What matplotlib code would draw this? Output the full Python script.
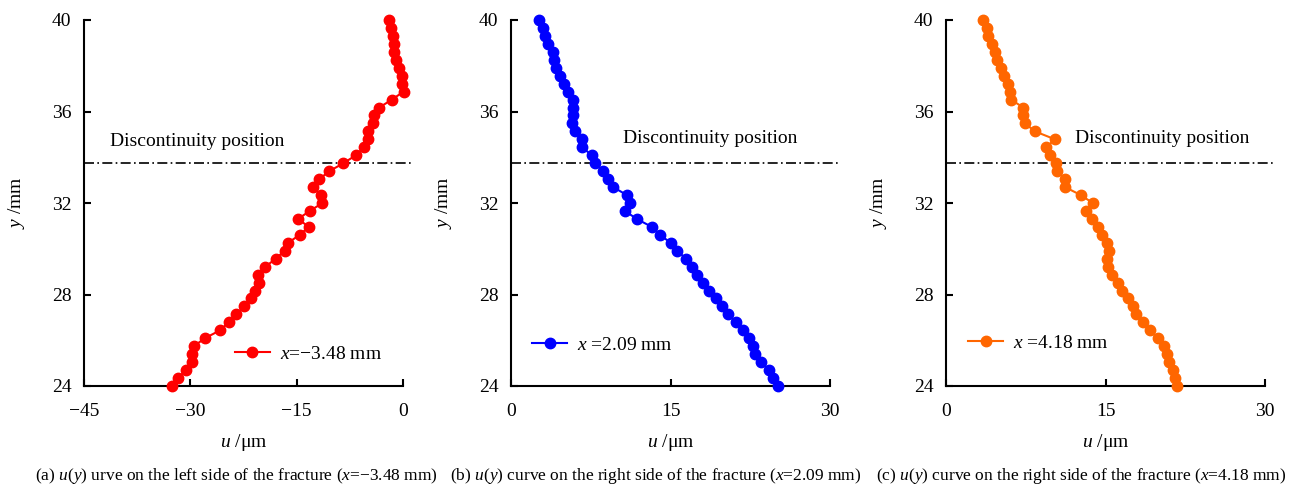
import numpy as np
import matplotlib
matplotlib.use("Agg")
from matplotlib import pyplot as plt

plt.rcParams['font.family'] = ['Liberation Serif', 'DejaVu Serif']
plt.rcParams['mathtext.fontset'] = 'custom'
plt.rcParams['mathtext.rm'] = 'Liberation Serif'
plt.rcParams['mathtext.it'] = 'Liberation Serif:italic'

# y positions (mm), 47 points from 40 down to 24
y_pos = np.linspace(40, 24, 47)

# u (um) left side, x = -3.48 mm
u_left = [-1.94, -1.70, -1.46, -1.32, -1.23, -0.99, -0.52, -0.19, -0.19, 0.09,
          -1.56, -3.35, -4.06, -4.29, -5.00, -4.90, -5.47, -6.65, -8.40, -10.4,
          -11.8, -12.7, -11.6, -11.36, -13.15, -14.8, -13.3, -14.57, -16.2, -16.7,
          -17.96, -19.4, -20.4, -20.3, -20.9, -21.4, -22.4, -23.5, -24.6, -25.8,
          -27.96, -29.5, -29.7, -29.8, -30.55, -31.8, -32.6]

# right side, x = 2.09 mm
u_r1 = [2.67, 2.98, 3.20, 3.45, 3.92, 4.08, 4.23, 4.61, 5.02, 5.39,
        5.80, 5.86, 5.80, 5.71, 6.02, 6.65, 6.71, 7.59, 7.90, 8.68,
        9.10, 9.62, 10.88, 11.20, 10.72, 11.82, 13.24, 14.0, 15.02, 15.65,
        16.43, 17.0, 17.53, 18.1, 18.66, 19.29, 19.82, 20.44, 21.14, 21.8,
        22.39, 22.74, 22.95, 23.52, 24.27, 24.68, 25.09]

# right side, x = 4.18 mm
u_r2 = [3.45, 3.83, 3.98, 4.30, 4.61, 4.83, 5.14, 5.46, 5.86, 6.02,
        6.11, 7.27, 7.27, 7.43, 8.37, 10.25, 9.41, 9.78, 10.32, 10.47,
        11.19, 11.19, 12.67, 13.8, 13.14, 13.77, 14.27, 14.71, 15.12, 15.33,
        15.18, 15.27, 15.65, 16.21, 16.59, 17.15, 17.56, 17.87, 18.56, 19.19,
        19.91, 20.54, 20.76, 21.01, 21.33, 21.55, 21.76]

disc_y = 33.77

panels = [
    dict(u=u_left, color='#FF0000', label='$x$=\u22123.48 mm',
         xlim=(-45, 0), xticks=[-45, -30, -15, 0],
         xticklabels=['\u221245', '\u221230', '\u221215', '0'],
         text_xy=(-41.3, 34.67), leg_xy=(0.473, 0.087), cap_x=236,
         caption='(a) $u$($y$) urve on the left side of the fracture ($x$=\u22123.48 mm)'),
    dict(u=u_r1, color='#0000FF', label='$x$ =2.09 mm',
         xlim=(0, 30), xticks=[0, 15, 30], xticklabels=['0', '15', '30'],
         text_xy=(10.5, 34.8), leg_xy=(0.066, 0.112), cap_x=656,
         caption='(b) $u$($y$) curve on the right side of the fracture ($x$=2.09 mm)'),
    dict(u=u_r2, color='#FF6600', label='$x$ =4.18 mm',
         xlim=(0, 30), xticks=[0, 15, 30], xticklabels=['0', '15', '30'],
         text_xy=(12.1, 34.8), leg_xy=(0.069, 0.117), cap_x=1081,
         caption='(c) $u$($y$) curve on the right side of the fracture ($x$=4.18 mm)'),
]

lefts = [84, 511, 946]
W, H = 1293, 487

fig = plt.figure(figsize=(W / 100, H / 100), dpi=100)

for left, p in zip(lefts, panels):
    ax = fig.add_axes([left / W, 1 - 386 / H, 319 / W, 366 / H])
    ax.plot(p['u'], y_pos, '-o', color=p['color'], lw=1.5, ms=7.5,
            label=p['label'], clip_on=False, zorder=3)
    ax.axhline(disc_y, xmin=0, xmax=1.03, color='black', lw=1.2,
               linestyle=(0, (6, 2, 1, 2)), clip_on=False)
    ax.text(p['text_xy'][0], p['text_xy'][1], 'Discontinuity position',
            fontsize=14, va='center', ha='left')
    ax.set_xlim(*p['xlim'])
    ax.set_ylim(24, 40)
    ax.set_xticks(p['xticks'])
    ax.set_xticklabels(p['xticklabels'])
    ax.set_yticks([24, 28, 32, 36, 40])
    for s in ['top', 'right']:
        ax.spines[s].set_visible(False)
    for s in ['left', 'bottom']:
        ax.spines[s].set_linewidth(1.5)
    ax.tick_params(direction='in', length=5, width=1.5, labelsize=14)
    ax.tick_params(axis='x', pad=12)
    ax.tick_params(axis='y', pad=9)
    ax.set_xlabel('$u$ /\u03bcm', fontsize=14, labelpad=9)
    ax.set_ylabel('$y$ /mm', fontsize=14, labelpad=18)
    ax.legend(loc='center left', bbox_to_anchor=p['leg_xy'], frameon=False,
              fontsize=14, borderpad=0, borderaxespad=0, handlelength=1.8,
              handletextpad=0.5)
    fig.text(p['cap_x'] / W, 1 - 476 / H, p['caption'], fontsize=12.5,
             ha='center', va='center')

fig.savefig('out.png', dpi=100)
